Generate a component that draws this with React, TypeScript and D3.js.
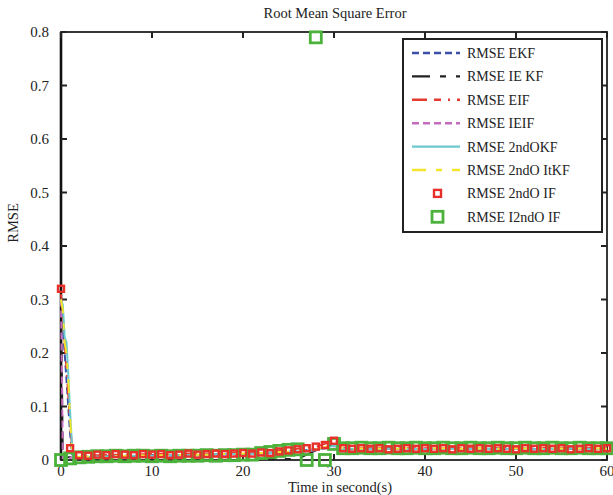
import * as d3 from "d3";
import React from "react";

// time axes (s)
const lineTime = [0, 0.2, 0.4, 0.6, 0.8, 1, 1.2, 1.4, 2, 4, 6, 8, 10, 12, 14, 16, 18, 20, 22, 24, 26, 28, 29, 30, 31, 32, 34, 36, 38, 40, 42, 44, 46, 48, 50, 52, 54, 56, 58, 60];
const markerTime = [0, 1, 2, 3, 4, 5, 6, 7, 8, 9, 10, 11, 12, 13, 14, 15, 16, 17, 18, 19, 20, 21, 22, 23, 24, 25, 26, 27, 28, 29, 30, 31, 32, 33, 34, 35, 36, 37, 38, 39, 40, 41, 42, 43, 44, 45, 46, 47, 48, 49, 50, 51, 52, 53, 54, 55, 56, 57, 58, 59, 60];

// line series
const rmseEKF = [0.30, 0.25, 0.20, 0.15, 0.10, 0.05, 0.012, 0.006, 0.006, 0.007, 0.008, 0.008, 0.009, 0.009, 0.010, 0.010, 0.011, 0.012, 0.013, 0.015, 0.017, 0.020, 0.023, 0.028, 0.022, 0.021, 0.021, 0.022, 0.021, 0.020, 0.021, 0.022, 0.021, 0.021, 0.022, 0.020, 0.021, 0.022, 0.021, 0.021];
const rmseIEKF = [0.30, 0.006, 0.005, 0.005, 0.005, 0.005, 0.005, 0.005, 0.005, 0.006, 0.007, 0.007, 0.008, 0.008, 0.009, 0.009, 0.010, 0.011, 0.002, 0.002, 0.002, 0.018, 0.022, 0.030, 0.021, 0.020, 0.021, 0.021, 0.020, 0.021, 0.021, 0.020, 0.021, 0.020, 0.021, 0.021, 0.020, 0.021, 0.021, 0.020];
const rmseEIF = [0.31, 0.27, 0.22, 0.17, 0.12, 0.07, 0.025, 0.009, 0.008, 0.009, 0.010, 0.010, 0.011, 0.011, 0.012, 0.012, 0.013, 0.014, 0.016, 0.018, 0.021, 0.025, 0.030, 0.040, 0.024, 0.022, 0.022, 0.023, 0.022, 0.022, 0.023, 0.022, 0.022, 0.023, 0.022, 0.022, 0.023, 0.022, 0.022, 0.023];
const rmseIEIF = [0.30, 0.004, 0.003, 0.003, 0.004, 0.004, 0.004, 0.004, 0.005, 0.006, 0.006, 0.007, 0.007, 0.008, 0.008, 0.009, 0.009, 0.010, 0.011, 0.013, 0.015, 0.018, 0.021, 0.026, 0.021, 0.020, 0.020, 0.021, 0.020, 0.020, 0.021, 0.020, 0.020, 0.021, 0.020, 0.020, 0.021, 0.020, 0.020, 0.021];
const rmse2ndOKF = [0.30, 0.29, 0.23, 0.22, 0.16, 0.09, 0.03, 0.006, 0.005, 0.006, 0.007, 0.008, 0.008, 0.009, 0.009, 0.010, 0.011, 0.011, 0.012, 0.014, 0.016, 0.019, 0.022, 0.027, 0.021, 0.021, 0.020, 0.021, 0.021, 0.020, 0.021, 0.021, 0.020, 0.021, 0.021, 0.020, 0.021, 0.021, 0.020, 0.021];
const rmse2ndOItKF = [0.30, 0.28, 0.22, 0.20, 0.15, 0.08, 0.02, 0.005, 0.006, 0.007, 0.007, 0.008, 0.009, 0.009, 0.010, 0.010, 0.011, 0.012, 0.013, 0.015, 0.017, 0.020, 0.024, 0.030, 0.022, 0.021, 0.022, 0.021, 0.022, 0.021, 0.022, 0.021, 0.022, 0.021, 0.022, 0.021, 0.022, 0.021, 0.022, 0.021];

// marker series
const rmse2ndOIF = [
  0.32, 0.022, 0.009, 0.008, 0.010, 0.009, 0.011, 0.010, 0.009, 0.011,
  0.010, 0.011, 0.009, 0.010, 0.012, 0.010, 0.011, 0.012, 0.011, 0.012,
  0.013, 0.012, 0.014, 0.013, 0.016, 0.018, 0.020, 0.022, 0.025, 0.028,
  0.036, 0.022, 0.021, 0.022, 0.021, 0.022, 0.020, 0.021, 0.022, 0.021,
  0.022, 0.021, 0.022, 0.020, 0.022, 0.021, 0.022, 0.021, 0.022, 0.021,
  0.020, 0.022, 0.021, 0.022, 0.021, 0.022, 0.020, 0.021, 0.022, 0.021,
  0.022,
];
const rmseI2ndOIF = [
  0.000, 0.003, 0.005, 0.006, 0.007, 0.007, 0.008, 0.007, 0.008, 0.008,
  0.007, 0.008, 0.007, 0.008, 0.008, 0.008, 0.009, 0.008, 0.009, 0.009,
  0.010, 0.010, 0.013, 0.015, 0.017, 0.019, 0.020, 0.000, 0.790, 0.000,
  0.030, 0.022, 0.022, 0.023, 0.022, 0.022, 0.023, 0.022, 0.022, 0.023,
  0.022, 0.022, 0.023, 0.022, 0.022, 0.023, 0.022, 0.022, 0.023, 0.022,
  0.022, 0.023, 0.022, 0.022, 0.023, 0.022, 0.022, 0.023, 0.022, 0.022,
  0.022,
];

const xTicks = [0, 10, 20, 30, 40, 50, 60];
const xTickLabels = ["0", "10", "20", "30", "40", "50", "60"];
const yTicks = [0, 0.1, 0.2, 0.3, 0.4, 0.5, 0.6, 0.7, 0.8];
const yTickLabels = ["0", "0.1", "0.2", "0.3", "0.4", "0.5", "0.6", "0.7", "0.8"];

const lineSeries = [
  { name: "RMSE EKF", values: rmseEKF, color: "#3b4fa6", dash: "7,4" },
  { name: "RMSE IE KF", values: rmseIEKF, color: "#222222", dash: "18,10,6,10" },
  { name: "RMSE EIF", values: rmseEIF, color: "#e53a2f", dash: "15,7,7,7,2,7" },
  { name: "RMSE IEIF", values: rmseIEIF, color: "#c46bbb", dash: "7,4" },
  { name: "RMSE 2ndOKF", values: rmse2ndOKF, color: "#6ccace", dash: "" },
  { name: "RMSE 2ndO ItKF", values: rmse2ndOItKF, color: "#f3e42c", dash: "14,10,6,10" },
];

const FONT = "'Liberation Serif', 'DejaVu Serif', serif";

export default function App() {
  const width = 613;
  const height = 495;
  const x = d3.scaleLinear().domain([0, 60]).range([61, 607]);
  const y = d3.scaleLinear().domain([0, 0.8]).range([460, 32]);
  const [x0, x1] = x.range();
  const [y0, y1] = y.range();

  const line = d3
    .line<number>()
    .x((_, i) => x(lineTime[i]))
    .y((d) => y(d));

  const legendRows = [
    ...lineSeries.map((s) => ({ name: s.name, kind: "line", s })),
    { name: "RMSE 2ndO IF", kind: "red", s: null },
    { name: "RMSE I2ndO IF", kind: "green", s: null },
  ];
  const legX = 403;
  const legY = 39;

  return (
    <div style={{ position: "absolute", left: 0, top: 0 }}>
      <svg width={width} height={height} style={{ display: "block", background: "#fff" }}>
        {/* frame */}
        <rect x={x0} y={y1} width={x1 - x0} height={y0 - y1} fill="none" stroke="#222" strokeWidth={1.8} />
        <line x1={x0} x2={x0} y1={y1} y2={y0} stroke="#111" strokeWidth={2.6} />
        {xTicks.map((t, i) => (
          <g key={"xt" + i}>
            <line x1={x(t)} x2={x(t)} y1={y0} y2={y0 - 6} stroke="#222" strokeWidth={2} />
            <line x1={x(t)} x2={x(t)} y1={y1} y2={y1 + 6} stroke="#222" strokeWidth={2} />
            <text x={x(t)} y={y0 + 16} textAnchor="middle" fontFamily={FONT} fontSize={15} fill="#222">
              {xTickLabels[i]}
            </text>
          </g>
        ))}
        {yTicks.map((t, i) => (
          <g key={"yt" + i}>
            <line x1={x0} x2={x0 + 6} y1={y(t)} y2={y(t)} stroke="#222" strokeWidth={2} />
            <line x1={x1} x2={x1 - 6} y1={y(t)} y2={y(t)} stroke="#222" strokeWidth={2} />
            <text x={49} y={y(t) + 5} textAnchor="end" fontFamily={FONT} fontSize={15} fill="#222">
              {yTickLabels[i]}
            </text>
          </g>
        ))}
        <text x={335} y={18} textAnchor="middle" fontFamily={FONT} fontSize={14.5} fill="#222">
          Root Mean Square Error
        </text>
        <text x={340} y={492} textAnchor="middle" fontFamily={FONT} fontSize={14.5} fill="#222">
          Time in second(s)
        </text>
        <text transform="translate(18,223) rotate(-90)" textAnchor="middle" fontFamily={FONT} fontSize={14.5} fill="#222">
          RMSE
        </text>

        {/* lines */}
        {lineSeries.map((s) => (
          <path key={s.name} d={line(s.values) || ""} fill="none" stroke={s.color} strokeWidth={2} strokeDasharray={s.dash || undefined} />
        ))}
        {/* I2ndO IF markers */}
        {rmseI2ndOIF.map((v, i) => (
          <rect key={"g" + i} x={x(markerTime[i]) - 5.5} y={y(v) - 5.5} width={11} height={11} fill="none" stroke="#4cb23c" strokeWidth={2.8} />
        ))}
        {/* 2ndO IF markers */}
        {rmse2ndOIF.map((v, i) => (
          <rect key={"r" + i} x={x(markerTime[i]) - 3} y={y(v) - 3} width={6} height={6} fill="none" stroke="#e8302a" strokeWidth={2.4} />
        ))}

        {/* legend */}
        <rect x={legX} y={legY} width={199} height={193} fill="#fff" stroke="#222" strokeWidth={2} />
        {legendRows.map((r, i) => {
          const ry = 53 + i * 23.4;
          return (
            <g key={r.name}>
              {r.kind === "line" && r.s && (
                <line x1={412} x2={460} y1={ry} y2={ry} stroke={r.s.color} strokeWidth={2.4} strokeDasharray={r.s.dash || undefined} />
              )}
              {r.kind === "red" && (
                <rect x={434} y={ry - 3.5} width={7} height={7} fill="none" stroke="#e8302a" strokeWidth={2.4} />
              )}
              {r.kind === "green" && (
                <rect x={432} y={ry - 5.5} width={11} height={11} fill="none" stroke="#4cb23c" strokeWidth={2.8} />
              )}
              <text x={467} y={ry + 5} fontFamily={FONT} fontSize={14} fill="#222">
                {r.name}
              </text>
            </g>
          );
        })}
      </svg>
    </div>
  );
}
